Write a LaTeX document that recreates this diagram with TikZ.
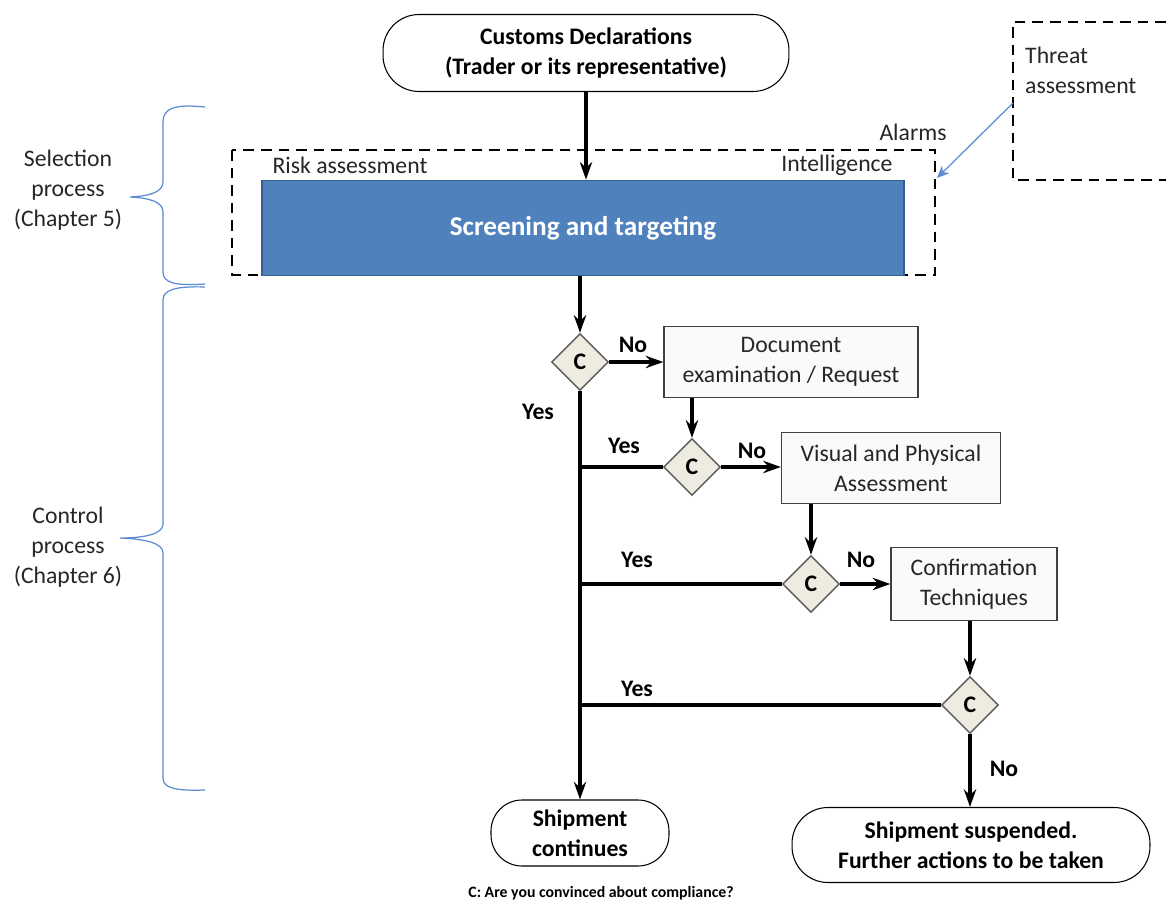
\documentclass[tikz,border=0pt]{standalone}
\usepackage{fontspec}
\setmainfont{Carlito}
\usetikzlibrary{arrows.meta,shapes.geometric}
\definecolor{boxblue}{HTML}{4F81BD}
\definecolor{boxedge}{HTML}{385D8A}
\definecolor{dfill}{HTML}{EEECE1}
\definecolor{txt}{HTML}{262626}
\definecolor{linkblue}{HTML}{5B8BD0}
\tikzset{
  every node/.style={font=\fontsize{13.5}{17}\selectfont},
  term/.style={draw,line width=0.6pt,fill=white,rounded corners=0.72cm,align=center,font=\fontsize{13.5}{17}\selectfont\bfseries},
  cbox/.style={draw=black!75,line width=0.8pt,fill=black!2,align=center,text=txt},
  cdiam/.style={diamond,draw=black!65,line width=0.8pt,fill=dfill,inner sep=0pt,minimum width=1.14cm,minimum height=1.14cm,font=\fontsize{13.5}{17}\selectfont\bfseries},
  arr/.style={line width=1.9pt,-{Stealth[length=10pt,width=7pt]}},
  yesline/.style={line width=1.9pt},
  dashbox/.style={line width=1.3pt,dash pattern=on 6pt off 4pt},
  lbl/.style={font=\fontsize{13.5}{17}\selectfont\bfseries},
  note/.style={text=txt,align=center},
  bracket/.style={draw=linkblue,line width=0.7pt}
}
\begin{document}
\begin{tikzpicture}[x=0.02cm,y=-0.02cm]
  \useasboundingbox (0,0) rectangle (1166,902);
  % selection part
  \node[term,minimum width=8.12cm,minimum height=1.54cm] (decl) at (586,53) {Customs Declarations\\(Trader or its representative)};
  \draw[dashbox] (232,150) rectangle (935,275);
  \draw[dashbox] (1166,22) -- (1013,22) -- (1013,180) -- (1166,180);
  \node[draw=boxedge,line width=1pt,fill=boxblue,text=white,font=\fontsize{15.5}{18}\selectfont\bfseries,minimum width=12.84cm,minimum height=1.9cm] (screen) at (583,228) {Screening and targeting};
  \node[note] (risk) at (350,165) {Risk assessment};
  \node[note] (intel) at (837,165) {Intelligence};
  \node[note] (alarm) at (913,132) {Alarms};
  \node[note,align=left,anchor=north west] (threat) at (1019,41) {Threat\\assessment};
  \coordinate (thr) at (1013,103);
  \coordinate (sel) at (937,178);
  \draw[linkblue,line width=0.7pt,-{Stealth[length=7pt,width=6pt]}] (thr) -- (sel);
  \draw[arr] (decl.south) -- (decl.south |- screen.north);
  % control part
  \node[cdiam] (d1) at (580,362) {C};
  \node[cdiam] (d2) at (692,467) {C};
  \node[cdiam] (d3) at (811,584) {C};
  \node[cdiam] (d4) at (970,705) {C};
  \node[cbox,minimum width=5.08cm,minimum height=1.42cm] (doc) at (791,362) {Document\\examination / Request};
  \node[cbox,minimum width=4.38cm,minimum height=1.42cm] (vis) at (891,468) {Visual and Physical\\Assessment};
  \node[cbox,minimum width=3.32cm,minimum height=1.46cm] (conf) at (974,584) {Confirmation\\Techniques};
  \node[term,minimum width=3.56cm,minimum height=1.32cm,rounded corners=0.62cm] (cont) at (580,833) {Shipment\\continues};
  \node[term,minimum width=7.16cm,minimum height=1.5cm] (susp) at (971,845) {Shipment suspended.\\Further actions to be taken};
  \draw[arr] (screen.south -| d1) -- (d1.north);
  \draw[arr] (d1.east) -- (doc.west);
  \draw[arr] (d2 |- doc.south) -- (d2.north);
  \draw[arr] (d2.east) -- (vis.west |- d2);
  \draw[arr] (d3 |- vis.south) -- (d3.north);
  \draw[arr] (d3.east) -- (conf.west |- d3);
  \draw[arr] (d4 |- conf.south) -- (d4.north);
  \draw[arr] (d4.south) -- (d4.south |- susp.north);
  \draw[arr] (d1.south) -- (d1.south |- cont.north);
  \draw[yesline] (d2.west) -- (d2.west -| d1);
  \draw[yesline] (d3.west) -- (d3.west -| d1);
  \draw[yesline] (d4.west) -- (d4.west -| d1);
  \node[lbl] (no1) at (633,345) {No};
  \node[lbl] (yes1) at (538,412) {Yes};
  \node[lbl] (yes2) at (624,446) {Yes};
  \node[lbl] (no2) at (752,451) {No};
  \node[lbl] (yes3) at (637,560) {Yes};
  \node[lbl] (no3) at (861,560) {No};
  \node[lbl] (yes4) at (637,689) {Yes};
  \node[lbl] (no4) at (1004,769) {No};
  % braces
  \draw[bracket] (205,107) .. controls (175,104) and (163,108) .. (163,122) -- (163,182)
    .. controls (163,192) and (150,196) .. (130,197) .. controls (150,198) and (163,202) .. (163,212)
    -- (163,272) .. controls (163,283) and (175,286) .. (205,284);
  \draw[bracket] (205,287) .. controls (175,286) and (163,290) .. (163,300) -- (163,524)
    .. controls (163,534) and (145,538) .. (120,538) .. controls (145,539) and (163,543) .. (163,553)
    -- (163,778) .. controls (163,788) and (175,791) .. (205,790);
  \node[note] (selp) at (68,190) {Selection\\process\\(Chapter 5)};
  \node[note] (ctrlp) at (68,547) {Control\\process\\(Chapter 6)};
  \node[font=\fontsize{9}{11}\selectfont\bfseries] (foot) at (601,893) {C: Are you convinced about compliance?};
\end{tikzpicture}
\end{document}
